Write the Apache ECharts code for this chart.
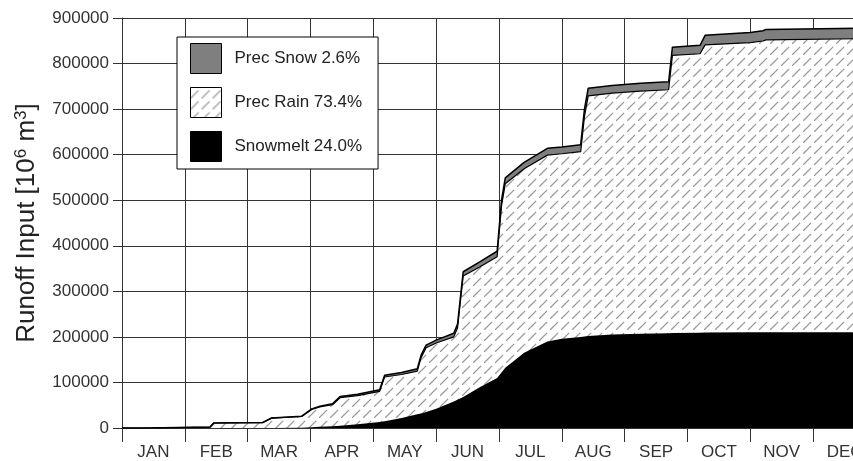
<!DOCTYPE html>
<html>
<head>
<meta charset="utf-8">
<script src="https://cdn.jsdelivr.net/npm/echarts@6/dist/echarts.min.js"></script>
<style>
    html, body { margin: 0; padding: 0; background: #fff; overflow: hidden; width: 853px; height: 461px; }
    /* the original figure is cropped on the right, so the chart is wider than the window */
    #chart_runoff { width: 876px; height: 461px; }
</style>
</head>
<body>
<div id="chart_runoff"></div>
<script>
    // month labels, one per month column
    var months = ['JAN','FEB','MAR','APR','MAY','JUN','JUL','AUG','SEP','OCT','NOV','DEC'];
    // position along the year, in months from 1 Jan
    var monthPos = [0.00, 0.40, 0.43, 1.40, 1.46, 2.24, 2.38, 2.86, 3.02, 3.15, 3.35, 3.47, 3.75, 4.10, 4.18, 4.45, 4.70, 4.76, 4.84, 5.00,
                    5.28, 5.34, 5.43, 5.70, 5.97, 6.04, 6.10, 6.40, 6.77, 7.00, 7.30, 7.36, 7.42, 7.80, 8.25, 8.70, 8.76, 9.20, 9.28, 10.00,
                    10.20, 10.25, 12.00];
    // cumulative total runoff input (top of the stack)
    var totalInput = [0, 0, 1500, 2000, 11000, 12000, 22000, 26000, 42000, 48000, 53000, 69000, 74000, 84000, 116000, 122000, 130000, 160000, 182000, 193000,
                      208000, 228000, 343000, 365000, 388000, 500000, 549000, 583000, 614000, 617000, 622000, 700000, 746000, 752000, 757000, 760000, 836000, 840000, 862000, 868000,
                      872000, 875000, 878000];
    // cumulative precipitation falling as snow
    var snowInput = [0, 0, 0, 0, 0, 0, 500, 800, 1200, 1500, 2000, 2500, 3000, 3500, 4000, 4500, 5000, 5500, 6000, 6500,
                     8000, 8500, 9500, 11000, 12000, 12500, 13000, 14000, 15000, 15000, 15500, 16500, 17000, 17000, 17500, 17500, 18000, 18500, 21000, 22000,
                     22500, 23000, 23000];
    // cumulative snowmelt
    var meltInput = [0, 0, 0, 0, 0, 0, 0, 500, 1500, 2500, 4000, 5000, 8000, 13000, 15000, 22000, 30000, 32000, 35000, 42000,
                     58000, 62000, 68000, 90000, 110000, 122000, 132000, 165000, 190000, 196000, 200000, 201000, 202000, 205000, 207000, 208000, 208500, 209000, 209500, 210000,
                     210000, 210000, 210000];
    var yTicks = [0, 100000, 200000, 300000, 400000, 500000, 600000, 700000, 800000, 900000];

    // top of the rain layer = snowmelt + rain = total - snow
    var rainTop = totalInput.map(function (v, i) { return v - snowInput[i]; });
    function pairs(arr) { return arr.map(function (v, i) { return [monthPos[i], v]; }); }

    // diagonal dashed hatching for the rain layer
    function hatch() {
        var c = document.createElement('canvas');
        c.width = 11; c.height = 11;
        var ctx = c.getContext('2d');
        ctx.fillStyle = '#fff';
        ctx.fillRect(0, 0, 11, 11);
        ctx.strokeStyle = '#9a9a9a';
        ctx.lineWidth = 1.3;
        ctx.setLineDash([11.5, 4]);
        ctx.beginPath();
        ctx.moveTo(0, 11);
        ctx.lineTo(11, 0);
        ctx.stroke();
        return c;
    }
    var hatchFill = { image: hatch(), repeat: 'repeat' };
    var font = "'Liberation Sans', Arial, sans-serif";

    var myChart = echarts.init(document.getElementById('chart_runoff'));
    var option = {
        animation: false,
        grid: { left: 122, top: 18, bottom: 33, right: 0 },
        legend: {
            orient: 'vertical',
            left: 177,
            top: 37,
            itemWidth: 31,
            itemHeight: 30,
            itemGap: 13,
            padding: [6, 16, 7, 13],
            borderColor: '#000',
            borderWidth: 1,
            backgroundColor: '#fff',
            textStyle: { fontSize: 17, color: '#222', fontFamily: font, padding: [0, 0, 0, 8] },
            data: [
                { name: 'Prec Snow 2.6%', icon: 'rect', itemStyle: { color: '#7f7f7f', borderColor: '#000', borderWidth: 1 } },
                { name: 'Prec Rain 73.4%', icon: 'rect', itemStyle: { color: hatchFill, borderColor: '#000', borderWidth: 1 } },
                { name: 'Snowmelt 24.0%', icon: 'rect', itemStyle: { color: '#000', borderColor: '#000', borderWidth: 1 } }
            ]
        },
        xAxis: {
            type: 'value',
            min: 0,
            max: 12,
            interval: 1,
            axisLine: { show: true, lineStyle: { color: '#333', width: 1 } },
            axisTick: { show: true, length: 14, lineStyle: { color: '#333' } },
            splitLine: { show: true, lineStyle: { color: '#333', width: 1 } },
            axisLabel: {
                customValues: months.map(function (m, i) { return i + 0.5; }),
                formatter: function (v) { return months[Math.floor(v)]; },
                margin: 16,
                fontSize: 17,
                color: '#333',
                fontFamily: font
            }
        },
        yAxis: {
            type: 'value',
            min: yTicks[0],
            max: yTicks[yTicks.length - 1],
            interval: yTicks[1] - yTicks[0],
            name: 'Runoff Input [10{sup|6} m{sup|3}]',
            nameLocation: 'middle',
            nameGap: 82,
            nameTextStyle: {
                fontSize: 26,
                color: '#222',
                fontFamily: font,
                rich: { sup: { fontSize: 17, fontFamily: font, color: '#222', padding: [0, 0, 10, 0] } }
            },
            axisLine: { show: true, lineStyle: { color: '#333', width: 1 } },
            axisTick: { show: true, length: 9, lineStyle: { color: '#333' } },
            splitLine: { show: true, lineStyle: { color: '#333', width: 1 } },
            axisLabel: {
                margin: 13,
                fontSize: 17,
                color: '#333',
                fontFamily: font,
                formatter: function (v) { return String(v); }
            }
        },
        series: [
            {
                name: 'Prec Snow 2.6%',
                type: 'line',
                showSymbol: false,
                data: pairs(totalInput),
                lineStyle: { width: 1.5, color: '#000' },
                itemStyle: { color: '#7f7f7f' },
                areaStyle: { color: '#7f7f7f', opacity: 1 }
            },
            {
                name: 'Prec Rain 73.4%',
                type: 'line',
                showSymbol: false,
                data: pairs(rainTop),
                lineStyle: { width: 1.2, color: '#000' },
                itemStyle: { color: '#999' },
                areaStyle: { color: hatchFill, opacity: 1 }
            },
            {
                name: 'Snowmelt 24.0%',
                type: 'line',
                showSymbol: false,
                data: pairs(meltInput),
                lineStyle: { width: 0, color: '#000' },
                itemStyle: { color: '#000' },
                areaStyle: { color: '#000', opacity: 1 }
            }
        ]
    };
    myChart.setOption(option);
</script>
</body>
</html>
